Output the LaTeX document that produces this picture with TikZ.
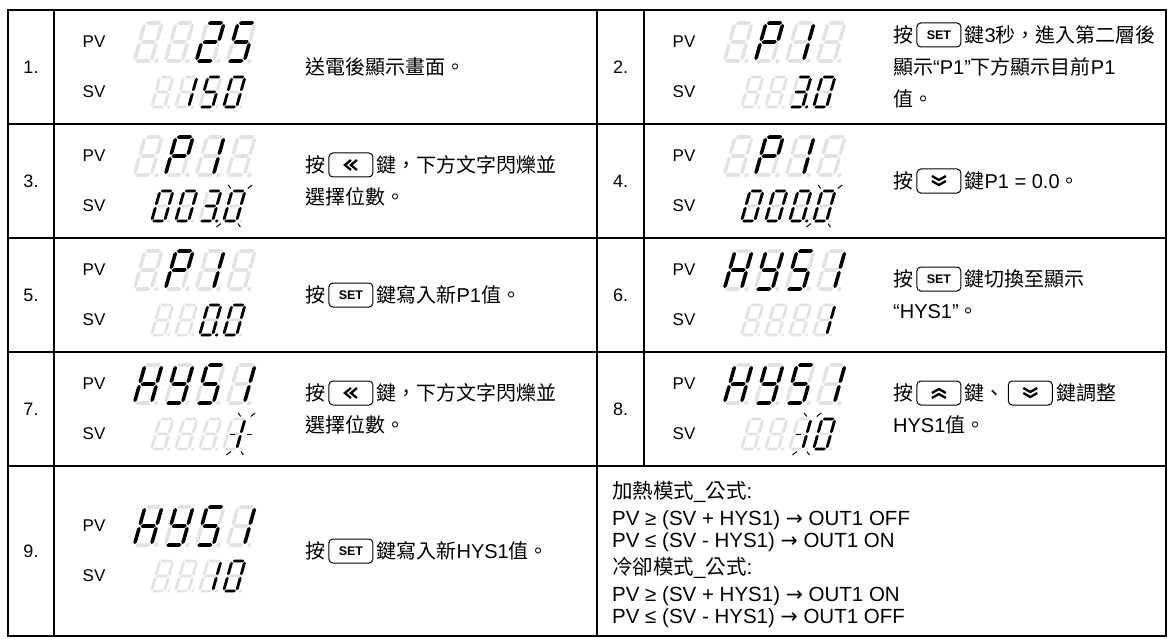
\documentclass[tikz,border=0pt]{standalone}
\usepackage{fontspec}
\setmainfont{Liberation Sans}
\newfontfamily\cj{Noto Sans CJK TC}
\newfontfamily\dv{DejaVu Sans}
\definecolor{segoff}{RGB}{226,226,226}
\tikzset{
  tbl/.style={line width=1.6pt, line cap=rect},
  txt/.style={font=\fontsize{20}{24}\selectfont, inner sep=0pt, text height=17pt, text depth=2pt, anchor=west},
  ftxt/.style={font=\fontsize{20.5}{24}\selectfont, inner sep=0pt, text height=16pt, text depth=2pt, anchor=west},
  keyb/.style={draw, rounded corners=4pt, line width=1pt, minimum width=44pt, minimum height=24pt, inner sep=0pt, anchor=west},
  chev/.style={line width=2.3pt},
  num/.style={font=\fontsize{18}{20}\selectfont, inner sep=0pt},
  lbl/.style={font=\fontsize{17}{20}\selectfont, inner sep=0pt},
  ray/.style={line width=1pt},
}
% seven segment pieces (local coords, y downward, top-left origin)
\newcommand\hseg[2]{\fill[#1] (\dG,#2) -- (\dG+\dT,#2-\dT) -- (\dW-\dG-\dT,#2-\dT) -- (\dW-\dG,#2) -- (\dW-\dG-\dT,#2+\dT) -- (\dG+\dT,#2+\dT) -- cycle;}
\newcommand\vseg[4]{\fill[#1] (#2,#3+\dG) -- (#2+\dT,#3+\dG+\dT) -- (#2+\dT,#4-\dG-\dT) -- (#2,#4-\dG) -- (#2-\dT,#4-\dG-\dT) -- (#2-\dT,#3+\dG+\dT) -- cycle;}
\newcommand\sgXa[1]{\hseg{#1}{0}}
\newcommand\sgXb[1]{\vseg{#1}{\dW}{0}{\dH/2}}
\newcommand\sgXc[1]{\vseg{#1}{\dW}{\dH/2}{\dH}}
\newcommand\sgXd[1]{\hseg{#1}{\dH}}
\newcommand\sgXe[1]{\vseg{#1}{0}{\dH/2}{\dH}}
\newcommand\sgXf[1]{\vseg{#1}{0}{0}{\dH/2}}
\newcommand\sgXg[1]{\hseg{#1}{\dH/2}}
\newcommand\sgXp[1]{\fill[#1] (\dW+2.8*\dT,\dH) circle[radius=1.2*\dT];}
\newcommand\sgXn[1]{}
\newcommand\digit[3]{\begin{scope}[shift={(#1,#2)},xslant=0.28]
  \foreach \segname in {a,b,c,d,e,f,g,p}{\csname sgX\segname\endcsname{segoff}}
  \foreach \segname in {#3}{\csname sgX\segname\endcsname{black}}
\end{scope}}
\newcommand\pvdisp[6]{%
  \def\dW{17}\def\dH{38}\def\dT{1.8}\def\dG{0.9}%
  \digit{#1+91}{#2-44}{#3}\digit{#1+122}{#2-44}{#4}\digit{#1+153}{#2-44}{#5}\digit{#1+184}{#2-44}{#6}}
\newcommand\svdisp[6]{%
  \def\dW{13}\def\dH{30}\def\dT{1.45}\def\dG{0.8}%
  \digit{#1+106}{#2+10}{#3}\digit{#1+130}{#2+10}{#4}\digit{#1+154}{#2+10}{#5}\digit{#1+178}{#2+10}{#6}}
% blink rays
\newcommand\rYTL{\draw[ray] (-2,-2.5) -- (-5.5,-6);}
\newcommand\rYTR{\draw[ray] (\dW+2,-2.5) -- (\dW+5.5,-6);}
\newcommand\rYBL{\draw[ray] (-2,\dH+2.5) -- (-5.5,\dH+6);}
\newcommand\rYBR{\draw[ray] (\dW+2,\dH+2.5) -- (\dW+5.5,\dH+6);}
\newcommand\rYOTL{\draw[ray] (\dW-5,-2.5) -- (\dW-8.5,-6);}
\newcommand\rYOTR{\draw[ray] (\dW+5,-2.5) -- (\dW+8.5,-6);}
\newcommand\rYOL{\draw[ray] (\dW-6,\dH/2) -- (\dW-11,\dH/2);}
\newcommand\rYOR{\draw[ray] (\dW+6,\dH/2) -- (\dW+11,\dH/2);}
\newcommand\rYOBL{\draw[ray] (\dW-5,\dH+2.5) -- (\dW-8.5,\dH+6);}
\newcommand\rYOBR{\draw[ray] (\dW+5,\dH+2.5) -- (\dW+8.5,\dH+6);}
\newcommand\rays[3]{\begin{scope}[shift={(#1,#2)},xslant=0.28]
  \foreach \rayname in {#3}{\csname rY\rayname\endcsname}
\end{scope}}
% key glyphs
\newcommand\setkey{{\fontsize{12.5}{12.5}\selectfont\bfseries SET}}
\newcommand\chevL[1]{\draw[chev] ([shift={(0,-5)}]#1.center) -- ([shift={(-6,0)}]#1.center) -- ([shift={(0,5)}]#1.center) ([shift={(6,-5)}]#1.center) -- ([shift={(0,0)}]#1.center) -- ([shift={(6,5)}]#1.center);}
\newcommand\chevD[1]{\draw[chev] ([shift={(-7,-5)}]#1.center) -- ([shift={(0,-1)}]#1.center) -- ([shift={(7,-5)}]#1.center) ([shift={(-7,0)}]#1.center) -- ([shift={(0,4)}]#1.center) -- ([shift={(7,0)}]#1.center);}
\newcommand\chevU[1]{\draw[chev] ([shift={(-7,5)}]#1.center) -- ([shift={(0,1)}]#1.center) -- ([shift={(7,5)}]#1.center) ([shift={(-7,0)}]#1.center) -- ([shift={(0,-4)}]#1.center) -- ([shift={(7,0)}]#1.center);}
\newcommand\labels[3]{% cx, yc, suffix
  \node[lbl] (pv#3) at (#1+40,#2-25) {PV};
  \node[lbl] (sv#3) at (#1+40,#2+25) {SV};}
\newcommand\arr{{\dv →}}

\begin{document}
\begin{tikzpicture}[x=1pt,y=-1pt]
\useasboundingbox (0,0) rectangle (1174,639);
\fill[white] (0,0) rectangle (1174,639);

% table
\draw[tbl] (8,10) rectangle (1166,636);
\foreach \yy in {124,238,352,466}{\draw[tbl] (8,\yy) -- (1166,\yy);}
\draw[tbl] (54,10) -- (54,636);
\draw[tbl] (597,10) -- (597,636);
\draw[tbl] (644,10) -- (644,466);

% numbers
\node[num] (n1) at (31,67) {1.};
\node[num] (n2) at (620.5,67) {2.};
\node[num] (n3) at (31,181) {3.};
\node[num] (n4) at (620.5,181) {4.};
\node[num] (n5) at (31,295) {5.};
\node[num] (n6) at (620.5,295) {6.};
\node[num] (n7) at (31,409) {7.};
\node[num] (n8) at (620.5,409) {8.};
\node[num] (n9) at (31,551) {9.};

% PV / SV labels
\labels{54}{67}{1}
\labels{644}{67}{2}
\labels{54}{181}{3}
\labels{644}{181}{4}
\labels{54}{295}{5}
\labels{644}{295}{6}
\labels{54}{409}{7}
\labels{644}{409}{8}
\labels{54}{551}{9}

% 1
\pvdisp{54}{67}{n}{n}{a,b,g,e,d}{a,f,g,c,d}
\svdisp{54}{67}{n}{b,c}{a,f,g,c,d}{a,b,c,d,e,f}
% 2
\pvdisp{644}{67}{n}{a,b,f,g,e}{b,c}{n}
\svdisp{644}{67}{n}{n}{a,b,g,c,d,p}{a,b,c,d,e,f}
% 3
\pvdisp{54}{181}{n}{a,b,f,g,e}{b,c}{n}
\svdisp{54}{181}{a,b,c,d,e,f}{a,b,c,d,e,f}{a,b,g,c,d,p}{a,b,c,d,e,f}
\rays{54+178}{191}{TL,TR,BL,BR}
% 4
\pvdisp{644}{181}{n}{a,b,f,g,e}{b,c}{n}
\svdisp{644}{181}{a,b,c,d,e,f}{a,b,c,d,e,f}{a,b,c,d,e,f,p}{a,b,c,d,e,f}
\rays{644+178}{191}{TL,TR,BL,BR}
% 5
\pvdisp{54}{295}{n}{a,b,f,g,e}{b,c}{n}
\svdisp{54}{295}{n}{n}{a,b,c,d,e,f,p}{a,b,c,d,e,f}
% 6
\pvdisp{644}{295}{b,c,e,f,g}{b,c,d,f,g}{a,f,g,c,d}{b,c}
\svdisp{644}{295}{n}{n}{n}{b,c}
% 7
\pvdisp{54}{409}{b,c,e,f,g}{b,c,d,f,g}{a,f,g,c,d}{b,c}
\svdisp{54}{409}{n}{n}{n}{b,c}
\rays{54+178}{419}{OTL,OTR,OL,OR,OBL,OBR}
% 8
\pvdisp{644}{409}{b,c,e,f,g}{b,c,d,f,g}{a,f,g,c,d}{b,c}
\svdisp{644}{409}{n}{n}{b,c}{a,b,c,d,e,f}
\rays{644+154}{419}{OTL,OTR,OL,OBL,OBR}
% 9
\pvdisp{54}{551}{b,c,e,f,g}{b,c,d,f,g}{a,f,g,c,d}{b,c}
\svdisp{54}{551}{n}{n}{b,c}{a,b,c,d,e,f}

% texts
\node[txt] (t1) at (305,67) {\cj 送電後顯示畫面。};

\node[txt] (t2a) at (893,35) {\cj 按};
\node[keyb] (k2) at ([xshift=3pt]t2a.east) {\setkey};
\node[txt] (t2b) at ([xshift=3pt]k2.east) {{\cj 鍵}3{\cj 秒，進入第二層後}};
\node[txt] (t2c) at (893,67) {{\cj 顯示}“P1”{\cj 下方顯示目前}P1};
\node[txt] (t2d) at (893,99) {\cj 值。};

\node[txt] (t3a) at (305,165) {\cj 按};
\node[keyb] (k3) at ([xshift=3pt]t3a.east) {};
\chevL{k3}
\node[txt] (t3b) at ([xshift=3pt]k3.east) {\cj 鍵，下方文字閃爍並};
\node[txt] (t3c) at (305,197) {\cj 選擇位數。};

\node[txt] (t4a) at (893,181) {\cj 按};
\node[keyb] (k4) at ([xshift=3pt]t4a.east) {};
\chevD{k4}
\node[txt] (t4b) at ([xshift=3pt]k4.east) {{\cj 鍵}P1 = 0.0{\cj 。}};

\node[txt] (t5a) at (305,295) {\cj 按};
\node[keyb] (k5) at ([xshift=3pt]t5a.east) {\setkey};
\node[txt] (t5b) at ([xshift=3pt]k5.east) {{\cj 鍵寫入新}P1{\cj 值。}};

\node[txt] (t6a) at (893,279) {\cj 按};
\node[keyb] (k6) at ([xshift=3pt]t6a.east) {\setkey};
\node[txt] (t6b) at ([xshift=3pt]k6.east) {\cj 鍵切換至顯示};
\node[txt] (t6c) at (893,311) {“HYS1”{\cj 。}};

\node[txt] (t7a) at (305,393) {\cj 按};
\node[keyb] (k7) at ([xshift=3pt]t7a.east) {};
\chevL{k7}
\node[txt] (t7b) at ([xshift=3pt]k7.east) {\cj 鍵，下方文字閃爍並};
\node[txt] (t7c) at (305,425) {\cj 選擇位數。};

\node[txt] (t8a) at (893,393) {\cj 按};
\node[keyb] (k8a) at ([xshift=3pt]t8a.east) {};
\chevU{k8a}
\node[txt] (t8b) at ([xshift=3pt]k8a.east) {\cj 鍵、};
\node[keyb] (k8b) at ([xshift=3pt]t8b.east) {};
\chevD{k8b}
\node[txt] (t8c) at ([xshift=3pt]k8b.east) {\cj 鍵調整};
\node[txt] (t8d) at (893,425) {HYS1{\cj 值。}};

\node[txt] (t9a) at (305,551) {\cj 按};
\node[keyb] (k9) at ([xshift=3pt]t9a.east) {\setkey};
\node[txt] (t9b) at ([xshift=3pt]k9.east) {{\cj 鍵寫入新}HYS1{\cj 值。}};

% formulas
\node[ftxt] (f1) at (612,491) {{\cj 加熱模式}\_{\cj 公式}:};
\node[ftxt] (f2) at (612,518) {PV ≥ (SV + HYS1) \arr{} OUT1 OFF};
\node[ftxt] (f3) at (612,540) {PV ≤ (SV - HYS1) \arr{} OUT1 ON};
\node[ftxt] (f4) at (612,567) {{\cj 冷卻模式}\_{\cj 公式}:};
\node[ftxt] (f5) at (612,594) {PV ≥ (SV + HYS1) \arr{} OUT1 ON};
\node[ftxt] (f6) at (612,616) {PV ≤ (SV - HYS1) \arr{} OUT1 OFF};
\end{tikzpicture}
\end{document}
